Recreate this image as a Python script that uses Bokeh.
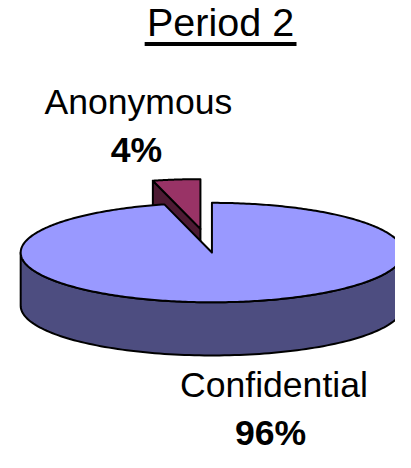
import numpy as np
from bokeh.plotting import figure
from bokeh.models import Range1d, ColumnDataSource
from bokeh.embed import file_html
from bokeh.resources import INLINE
from bokeh.core.properties import value

# ---------------- data ----------------
title_text = "Period 2"
categories = ["Confidential", "Anonymous"]
values = [96, 4]
pct_labels = ["96%", "4%"]

# ---------------- style / layout ----------------
explode = [0.0, 0.48]
top_colors = ["#9999FF", "#993366"]
side_colors = ["#4D4D80", "#4D1A33"]
FONT = "Liberation Sans"

W, H = 395, 452            # figure size (px)
VW, VH = 411.0, 468.0      # drawing units (reference canvas)
SC = (W / VW + H / VH) / 2.0
CX, CY = 220.0, 261.0      # pie centre
RA, RB = 199.0, 51.5       # ellipse radii
DEPTH = 55.0
START = 90.0               # first slice starts at 12 o'clock, clockwise
BASE_SHIFT = 15.0          # baseline correction of the svg text

name_pos = [(284.5, 413.0), (143.5, 120.0)]
pct_pos = [(281.0, 463.0), (141.5, 170.0)]
title_pos = (229.0, 37.5)
underline_x = (150.0, 308.0)
underline_y = 45.0

p = figure(width=W, height=H, x_range=Range1d(0, VW), y_range=Range1d(VH, 0),
           output_backend="svg", toolbar_location=None, min_border=0,
           x_axis_location=None, y_axis_location=None)
p.grid.visible = False
p.outline_line_color = None
p.background_fill_color = "white"
p.border_fill_color = "white"


def pt(theta_deg, dx=0.0, dy=0.0, down=0.0):
    t = np.radians(theta_deg)
    return CX + dx + RA * np.cos(t), CY + dy - RB * np.sin(t) + down


total = float(sum(values))
slices = []
ang = START
for i, v in enumerate(values):
    sweep = 360.0 * v / total
    t0, t1 = ang, ang - sweep          # clockwise: t1 < t0
    mid = (t0 + t1) / 2.0
    m = np.radians(mid)
    dx = explode[i] * RA * np.cos(m)
    dy = -explode[i] * RB * np.sin(m)
    slices.append(dict(i=i, t0=t0, t1=t1, mid=mid, dx=dx, dy=dy))
    ang = t1

# back slices first
order = sorted(slices, key=lambda s: s["dy"] - RB * np.sin(np.radians(s["mid"])))

xs, ys, fills = [], [], []
for s in order:
    i, t0, t1, dx, dy = s["i"], s["t0"], s["t1"], s["dx"], s["dy"]
    # outer wall (front half)
    for k in range(-1, 1):
        lo, hi = -180.0 + 360 * k, 0.0 + 360 * k
        a0, a1 = max(t1, lo), min(t0, hi)
        if a1 > a0:
            th = np.linspace(a0, a1, 120)
            tx, ty = pt(th, dx, dy)
            bx, by = pt(th[::-1], dx, dy, DEPTH)
            xs.append(list(np.concatenate([tx, bx])))
            ys.append(list(np.concatenate([ty, by])))
            fills.append(side_colors[i])
    # radial cut faces
    cx0, cy0 = CX + dx, CY + dy
    if np.cos(np.radians(t0)) < -1e-9:
        rx, ry = pt(t0, dx, dy)
        xs.append([cx0, rx, rx, cx0]); ys.append([cy0, ry, ry + DEPTH, cy0 + DEPTH])
        fills.append(side_colors[i])
    if np.cos(np.radians(t1)) > 1e-9:
        rx, ry = pt(t1, dx, dy)
        xs.append([cx0, rx, rx, cx0]); ys.append([cy0, ry, ry + DEPTH, cy0 + DEPTH])
        fills.append(side_colors[i])
    # top face
    th = np.linspace(t0, t1, 400)
    tx, ty = pt(th, dx, dy)
    xs.append([cx0] + list(tx)); ys.append([cy0] + list(ty))
    fills.append(top_colors[i])

p.patches(xs=xs, ys=ys, fill_color=fills, line_color="black", line_width=2,
          line_join="round")

# title with underline
p.text(x=[title_pos[0]], y=[title_pos[1] - BASE_SHIFT], text=[title_text], text_font=value(FONT),
       text_font_size=f"{41 * SC:.1f}px", text_align="center", text_baseline="alphabetic",
       text_color="black")
p.segment(x0=[underline_x[0]], y0=[underline_y], x1=[underline_x[1]], y1=[underline_y],
          line_color="black", line_width=4)

# labels
src = ColumnDataSource(dict(nx=[q[0] for q in name_pos], ny=[q[1] - BASE_SHIFT for q in name_pos],
                            px=[q[0] for q in pct_pos], py=[q[1] - BASE_SHIFT for q in pct_pos],
                            name=categories, pct=pct_labels))
fs = f"{37 * SC:.1f}px"
p.text(x="nx", y="ny", text="name", source=src, text_font=value(FONT), text_font_size=fs,
       text_align="center", text_baseline="alphabetic", text_color="black")
p.text(x="px", y="py", text="pct", source=src, text_font=value(FONT), text_font_size=fs,
       text_font_style="bold", text_align="center", text_baseline="alphabetic", text_color="black")

open("out.html", "w").write(file_html(p, INLINE))
